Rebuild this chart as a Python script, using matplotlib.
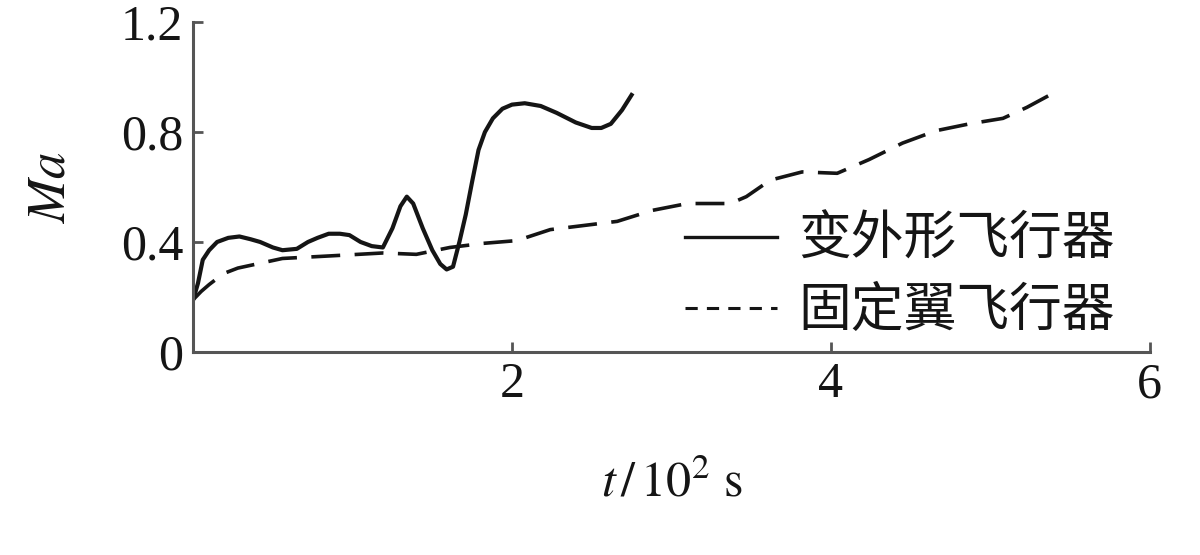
import numpy as np
import matplotlib
matplotlib.use('Agg')
import matplotlib.pyplot as plt
from matplotlib.lines import Line2D

# 变外形飞行器 (solid)
t_morph = [0, 0.03, 0.06, 0.10, 0.15, 0.22, 0.29, 0.36, 0.42, 0.50, 0.56, 0.65,
           0.72, 0.78, 0.85, 0.92, 0.98, 1.05, 1.12, 1.19, 1.25, 1.30, 1.34, 1.38,
           1.44, 1.50, 1.55, 1.59, 1.63, 1.67, 1.71, 1.75, 1.79, 1.83, 1.88, 1.94,
           2.00, 2.08, 2.18, 2.28, 2.40, 2.50, 2.56, 2.62, 2.69, 2.75]
ma_morph = [0.19, 0.25, 0.335, 0.37, 0.40, 0.415, 0.42, 0.41, 0.40, 0.38, 0.37, 0.375,
            0.40, 0.415, 0.43, 0.43, 0.425, 0.40, 0.385, 0.38, 0.45, 0.53, 0.565, 0.54,
            0.45, 0.37, 0.32, 0.30, 0.31, 0.40, 0.50, 0.62, 0.735, 0.80, 0.85, 0.885,
            0.90, 0.905, 0.895, 0.87, 0.835, 0.815, 0.815, 0.83, 0.88, 0.935]

# 固定翼飞行器 (dashed)
t_fixed = [0, 0.05, 0.10, 0.19, 0.28, 0.36, 0.56, 0.88, 1.19, 1.40, 1.61, 1.82,
           2.03, 2.24, 2.45, 2.66, 2.88, 3.10, 3.37, 3.47, 3.62, 3.82, 4.04, 4.24,
           4.45, 4.66, 4.87, 5.08, 5.23, 5.39]
ma_fixed = [0.19, 0.22, 0.245, 0.285, 0.305, 0.315, 0.34, 0.35, 0.36, 0.355, 0.38, 0.395,
            0.405, 0.445, 0.46, 0.475, 0.515, 0.54, 0.54, 0.565, 0.625, 0.655, 0.65, 0.70,
            0.76, 0.805, 0.83, 0.85, 0.89, 0.94]

labels = ['变外形飞行器', '固定翼飞行器']
x_ticks = [2, 4, 6]
y_ticks = [0, 0.4, 0.8, 1.2]
y_tick_labels = ['0', '0.4', '0.8', '1.2']

plt.rcParams['font.family'] = ['Liberation Serif', 'Noto Sans CJK SC']
plt.rcParams['mathtext.fontset'] = 'stix'

fig = plt.figure(figsize=(12, 5.55), dpi=100)
ax = fig.add_axes([0.161, 0.366, 0.797, 0.594])

ink = '#151515'
ax.plot(t_morph, ma_morph, color=ink, lw=3.0, solid_joinstyle='round')
ax.plot(t_fixed, ma_fixed, color=ink, lw=2.6, dashes=(8, 4))

ax.set_xlim(0, 6)
ax.set_ylim(0, 1.2)
ax.set_xticks(x_ticks)
ax.set_yticks(y_ticks)
ax.set_yticklabels(y_tick_labels)

for side in ['top', 'right']:
    ax.spines[side].set_visible(False)
for side in ['left', 'bottom']:
    ax.spines[side].set_color('#555555')
    ax.spines[side].set_linewidth(2.2)

ax.tick_params(direction='in', length=7, width=2, color='#555555',
               labelsize=36, pad=7, labelcolor=ink)

ax.set_xlabel(r'$t\,/\,10^2\ \mathrm{s}$', fontsize=36, color=ink, labelpad=38)
ax.set_ylabel(r'$Ma$', fontsize=38, color=ink, labelpad=33)

handles = [Line2D([], [], color=ink, lw=2.4),
           Line2D([], [], color=ink, lw=2.2, dashes=(4, 3))]
leg = ax.legend(handles, labels, loc='center left', bbox_to_anchor=(0.514, 0.227),
                frameon=False, fontsize=38, handlelength=1.75, handletextpad=0.4,
                labelspacing=0.4, borderpad=0, borderaxespad=0)
for txt in leg.get_texts():
    txt.set_color(ink)

fig.savefig('out.png', dpi=100)
